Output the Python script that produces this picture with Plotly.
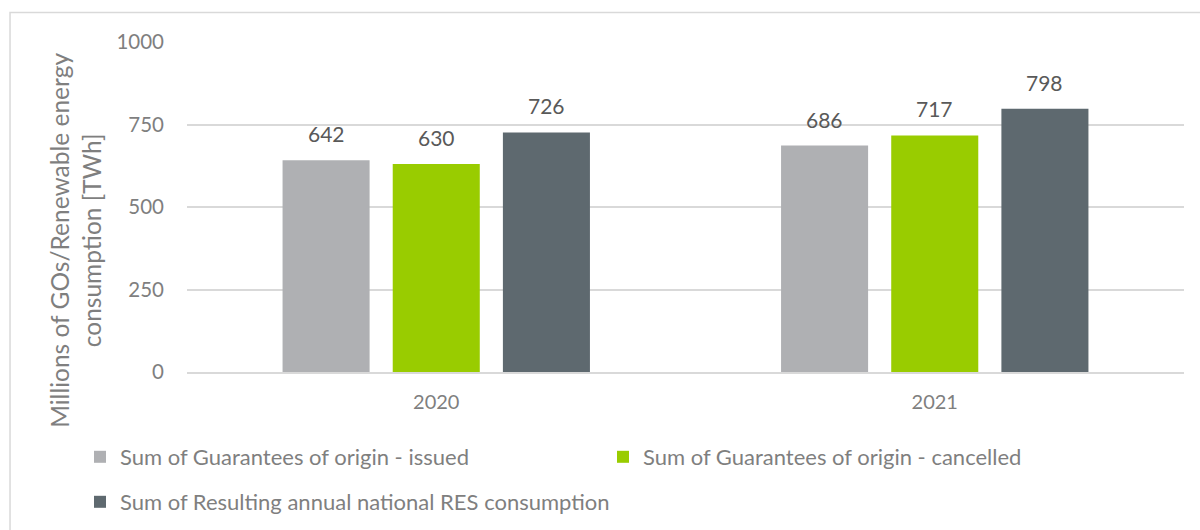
import plotly.graph_objects as go

years = ["2020", "2021"]
series_names = [
    "Sum of Guarantees of origin - issued",
    "Sum of Guarantees of origin - cancelled",
    "Sum of Resulting annual national RES consumption",
]
issued = [642, 686]
cancelled = [630, 717]
res_consumption = [726, 798]
y_ticks = [0, 250, 500, 750, 1000]
y_title = "Millions of GOs/Renewable energy<br>consumption [TWh]"

colors = ["#AFB0B3", "#99CC00", "#5E696F"]
font_family = "Lato, 'Open Sans', sans-serif"
text_gray = "#7F7F7F"
label_gray = "#595959"

bargap = 0.337
values = [issued, cancelled, res_consumption]
legend_ids = ["legend", "legend3", "legend2"]

fig = go.Figure()
for name, vals, col, lg in zip(series_names, values, colors, legend_ids):
    fig.add_trace(go.Bar(
        x=years, y=vals, name=name, marker=dict(color=col, line=dict(width=0)),
        legend=lg,
        hovertemplate="%{x}: %{y}<extra>" + name + "</extra>",
    ))

# value labels above each bar, placed at the bar's slot within its group
n = len(values)
slot = (1 - bargap) / n
for j, vals in enumerate(values):
    for i, v in enumerate(vals):
        fig.add_annotation(
            x=i + (j - (n - 1) / 2) * slot, y=v, xref="x", yref="y",
            text=str(v), showarrow=False, yanchor="bottom", yshift=12,
            font=dict(family=font_family, size=21, color=label_gray),
        )

# rotated y-axis title, centred on the chart body
fig.add_annotation(
    text=y_title, textangle=-90, showarrow=False,
    xref="paper", yref="paper", x=-0.1125, y=0.40,
    xanchor="center", yanchor="middle",
    font=dict(family=font_family, size=24.5, color=text_gray),
)

# light frame around the chart area
fig.add_shape(type="rect", xref="paper", yref="paper",
              x0=-0.1775, x1=1.2, y0=-0.7, y1=1.0895,
              line=dict(color="#D9D9D9", width=1.5), fillcolor="rgba(0,0,0,0)",
              layer="below")

legend_common = dict(
    orientation="h", xref="container", yref="container",
    xanchor="left", yanchor="middle",
    font=dict(family=font_family, size=22, color=text_gray),
    bgcolor="rgba(0,0,0,0)",
    itemclick=False, itemdoubleclick=False,
)

fig.update_layout(
    width=1200, height=530,
    margin=dict(l=187, r=16, t=42, b=158),
    paper_bgcolor="white", plot_bgcolor="white",
    barmode="group", bargap=bargap, bargroupgap=0.21,
    font=dict(family=font_family, color=text_gray),
    showlegend=True,
    legend=dict(x=80 / 1200, y=1 - 457 / 530, **legend_common),
    legend3=dict(x=603 / 1200, y=1 - 457 / 530, **legend_common),
    legend2=dict(x=80 / 1200, y=1 - 502 / 530, **legend_common),
    yaxis=dict(
        range=[0, 1000], tickvals=y_ticks, showgrid=True,
        gridcolor="#D9D9D9", gridwidth=1.5, zeroline=False,
        showline=False, ticks="", ticklabelstandoff=22,
        tickfont=dict(family=font_family, size=20.5, color=text_gray),
    ),
    xaxis=dict(
        showline=True, linecolor="#D9D9D9", linewidth=1.5, ticks="",
        ticklabelstandoff=11,
        tickfont=dict(family=font_family, size=20, color=text_gray),
    ),
)

fig.write_html("out.html")
